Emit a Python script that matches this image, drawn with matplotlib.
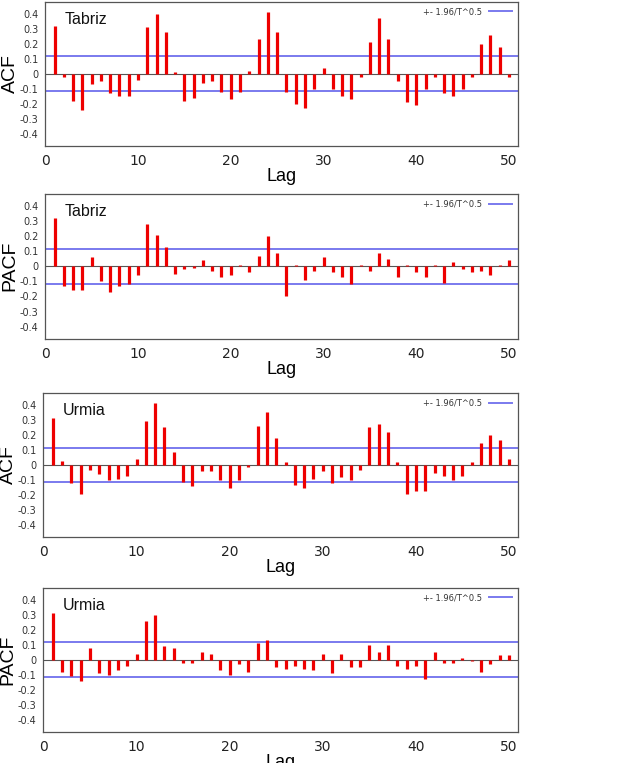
import numpy as np
import matplotlib
matplotlib.use('Agg')
from matplotlib import pyplot as plt

lags = np.arange(1, 51)

tabriz_acf = [0.32, -0.02, -0.18, -0.24, -0.07, -0.05, -0.13, -0.15, -0.15, -0.04,
              0.31, 0.40, 0.28, 0.01, -0.18, -0.16, -0.06, -0.05, -0.12, -0.17,
              -0.12, 0.02, 0.23, 0.41, 0.28, -0.12, -0.20, -0.23, -0.10, 0.04,
              -0.10, -0.15, -0.17, -0.02, 0.21, 0.37, 0.23, -0.05, -0.19, -0.21,
              -0.10, -0.02, -0.13, -0.15, -0.10, -0.02, 0.20, 0.26, 0.18, -0.02]

tabriz_pacf = [0.32, -0.13, -0.16, -0.16, 0.06, -0.10, -0.17, -0.13, -0.12, -0.06,
               0.28, 0.21, 0.13, -0.05, -0.02, -0.01, 0.04, -0.03, -0.07, -0.06,
               0.01, -0.04, 0.07, 0.20, 0.09, -0.20, 0.01, -0.09, -0.03, 0.06,
               -0.04, -0.07, -0.12, 0.01, -0.03, 0.09, 0.05, -0.07, 0.01, -0.04,
               -0.07, 0.01, -0.11, 0.03, -0.02, -0.04, -0.03, -0.06, 0.01, 0.04]

urmia_acf = [0.31, 0.03, -0.12, -0.19, -0.03, -0.06, -0.10, -0.09, -0.07, 0.04,
             0.29, 0.41, 0.25, 0.09, -0.11, -0.14, -0.04, -0.04, -0.10, -0.15,
             -0.10, -0.01, 0.26, 0.35, 0.18, 0.02, -0.13, -0.15, -0.09, -0.04,
             -0.12, -0.08, -0.10, -0.03, 0.25, 0.27, 0.22, 0.02, -0.19, -0.17,
             -0.17, -0.05, -0.07, -0.10, -0.07, 0.02, 0.15, 0.20, 0.17, 0.04]

urmia_pacf = [0.31, -0.08, -0.11, -0.14, 0.08, -0.09, -0.10, -0.07, -0.04, 0.04,
              0.26, 0.30, 0.09, 0.08, -0.02, -0.02, 0.05, 0.04, -0.07, -0.10,
              -0.03, -0.08, 0.11, 0.13, -0.05, -0.06, -0.04, -0.06, -0.07, 0.04,
              -0.09, 0.04, -0.05, -0.05, 0.10, 0.05, 0.10, -0.04, -0.06, -0.04,
              -0.13, 0.05, -0.02, -0.02, 0.01, -0.01, -0.08, -0.03, 0.03, 0.03]

bound = 0.115
panels = [('Tabriz', 'ACF', tabriz_acf),
          ('Tabriz', 'PACF', tabriz_pacf),
          ('Urmia', 'ACF', urmia_acf),
          ('Urmia', 'PACF', urmia_pacf)]

# axes boxes in figure fractions (left, bottom, width, height)
boxes = [[0.073, 0.809, 0.763, 0.189],
         [0.073, 0.556, 0.763, 0.190],
         [0.070, 0.296, 0.766, 0.189],
         [0.070, 0.041, 0.766, 0.189]]

fig = plt.figure(figsize=(6.2, 7.63), dpi=100)

for (city, kind, vals), box in zip(panels, boxes):
    ax = fig.add_axes(box)
    ax.axhline(0, color='#555555', lw=0.8, zorder=1)
    ax.axhline(bound, color='#7a7aee', lw=1.4, zorder=2, label='+- 1.96/T^0.5')
    ax.axhline(-bound, color='#7a7aee', lw=1.4, zorder=2)
    ax.vlines(lags, 0, vals, color='#ee0000', lw=2.3, zorder=3)
    ax.set_xlim(0, 51)
    ax.set_ylim(-0.48, 0.48)
    ax.set_xticks([0, 10, 20, 30, 40, 50])
    ax.set_yticks([-0.4, -0.3, -0.2, -0.1, 0, 0.1, 0.2, 0.3, 0.4])
    ax.set_yticklabels(['-0.4', '-0.3', '-0.2', '-0.1', '0', '0.1', '0.2', '0.3', '0.4'])
    ax.tick_params(axis='y', length=0, labelsize=7, labelcolor='#333333', pad=5)
    ax.tick_params(axis='x', length=0, labelsize=10, labelcolor='#222222', pad=6)
    for s in ax.spines.values():
        s.set_color('#555555')
        s.set_linewidth(0.9)
    ax.set_xlabel('Lag', family='Liberation Sans', fontsize=13, labelpad=0)
    ax.set_ylabel(kind, family='Liberation Sans', fontsize=14)
    ax.yaxis.set_label_coords(-0.056, 0.5)
    ax.text(0.04, 0.93, city, transform=ax.transAxes, family='Liberation Sans',
            fontsize=11.5, va='top', ha='left', color='#111111')
    ax.legend(loc='upper right', frameon=False, fontsize=6, handlelength=2.8,
              markerfirst=False, borderaxespad=0.3, labelcolor='#333333')

fig.savefig('out.png', dpi=100)
